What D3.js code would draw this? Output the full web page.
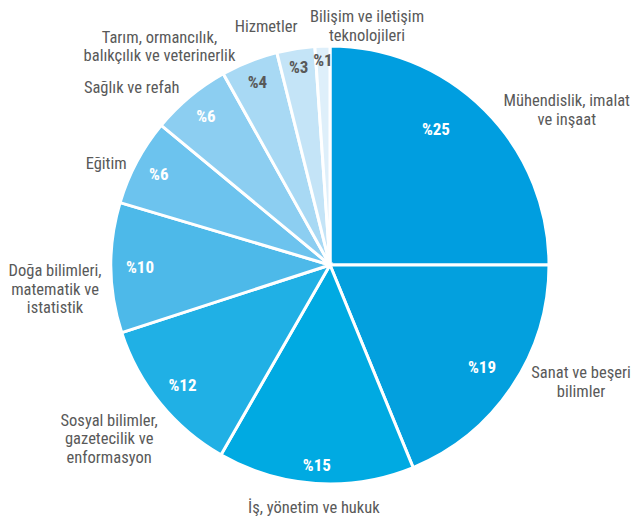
<!DOCTYPE html>
<html>
<head>
<meta charset="utf-8">
<script src="https://cdn.jsdelivr.net/npm/d3@7"></script>
<style>
  html, body { margin: 0; padding: 0; background: #fff; }
  svg { display: block; }
  .out { font-family: "Liberation Sans Narrow", "Arial Narrow", "Roboto Condensed", sans-serif; font-size: 16.5px; fill: #595959; }
  .in { font-family: "Liberation Sans Narrow", "Arial Narrow", "Roboto Condensed", sans-serif; font-size: 17px; font-weight: bold; }
</style>
</head>
<body>
<svg id="chart" width="633" height="519"></svg>
<script>
// Data (clockwise from 12 o'clock)
const categories = [
  "Mühendislik, imalat\nve inşaat",
  "Sanat ve beşeri\nbilimler",
  "İş, yönetim ve hukuk",
  "Sosyal bilimler,\ngazetecilik ve\nenformasyon",
  "Doğa bilimleri,\nmatematik ve\nistatistik",
  "Eğitim",
  "Sağlık ve refah",
  "Tarım, ormancılık,\nbalıkçılık ve veterinerlik",
  "Hizmetler",
  "Bilişim ve iletişim\nteknolojileri"
];
const values = [25.0, 18.8, 14.5, 11.7, 9.6, 6.4, 5.9, 4.2, 2.8, 1.1];
const valueLabels = ["%25", "%19", "%15", "%12", "%10", "%6", "%6", "%4", "%3", "%1"];
const colors = ["#009ee0", "#03a0de", "#00aae2", "#20b0e5", "#4db9e9", "#6cc3ee", "#8ccef1", "#a8d9f4", "#c4e4f7", "#deeffa"];
const labelColors = ["#fff", "#fff", "#fff", "#fff", "#fff", "#fff", "#fff", "#595959", "#595959", "#595959"];

// Layout
const cx = 330, cy = 265, R = 219;
// inner label placement: [angle offset deg, distance]
const innerPlace = [[-7, 172], [0, 183], [0, 200], [0, 190], [0, 190], [0, 194], [0, 194], [0, 197], [0, 200], [0, 205]];
// outer label placement: [angle deg from top, distance]
const outerPlace = [[56.8, 283], [115, 277], [183.8, 243], [231.8, 281], [265, 276], [294.5, 246], [311.8, 266], [322, 277], [345, 247], [8.8, 242]];

const svg = d3.select("#chart");
const g = svg.append("g").attr("transform", `translate(${cx},${cy})`);

const pie = d3.pie().sort(null).value(d => d)(values);
const arc = d3.arc().innerRadius(0).outerRadius(R);

g.selectAll("path.slice").data(pie).enter().append("path")
  .attr("class", "slice")
  .attr("d", arc)
  .attr("fill", (d, i) => colors[i])
  .attr("stroke", "#fff")
  .attr("stroke-width", 3)
  .attr("stroke-linejoin", "miter");

function polar(angDeg, dist) {
  const a = angDeg * Math.PI / 180;
  return [Math.sin(a) * dist, -Math.cos(a) * dist];
}

g.selectAll("text.in").data(pie).enter().append("text")
  .attr("class", "in")
  .attr("text-anchor", "middle")
  .attr("dominant-baseline", "central")
  .attr("fill", (d, i) => labelColors[i])
  .attr("transform", (d, i) => {
    const mid = (d.startAngle + d.endAngle) / 2 * 180 / Math.PI + innerPlace[i][0];
    const [x, y] = polar(mid, innerPlace[i][1]);
    return `translate(${x},${y})`;
  })
  .text((d, i) => valueLabels[i]);

const lineH = 18.5;
g.selectAll("text.out").data(pie).enter().append("text")
  .attr("class", "out")
  .attr("text-anchor", "middle")
  .each(function(d, i) {
    const lines = categories[i].split("\n");
    const [x, y] = polar(outerPlace[i][0], outerPlace[i][1]);
    const t = d3.select(this);
    const y0 = y - (lines.length - 1) * lineH / 2;
    lines.forEach((ln, k) => {
      t.append("tspan").attr("x", x).attr("y", y0 + k * lineH)
        .attr("dominant-baseline", "central").text(ln);
    });
  });
</script>
</body>
</html>
